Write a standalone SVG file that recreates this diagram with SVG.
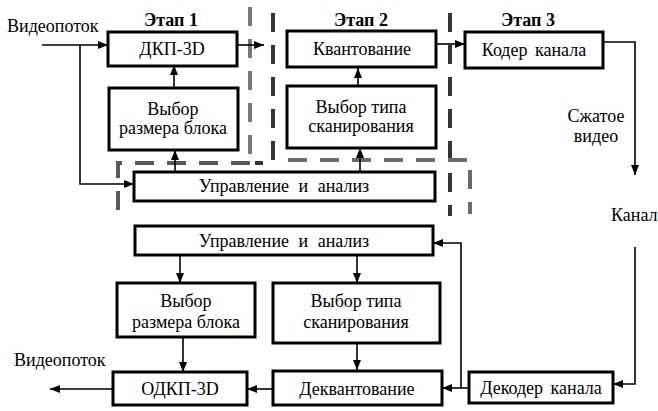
<svg xmlns="http://www.w3.org/2000/svg" width="658" height="411" viewBox="0 0 658 411">
  <style>
    .box { fill: #fff; stroke: #000; stroke-width: 3; }
    .t { font-family: "Liberation Serif", "Times New Roman", serif; font-size: 18px; fill: #000; text-anchor: middle; }
    .tl { font-family: "Liberation Serif", "Times New Roman", serif; font-size: 18px; fill: #000; }
    .wide { word-spacing: 5px; }
    .stage { font-family: "Liberation Serif", "Times New Roman", serif; font-size: 18px; font-weight: bold; fill: #000; text-anchor: middle; }
    .arr { fill: none; stroke: #000; stroke-width: 1.6; marker-end: url(#ah); }
    .dash { fill: none; stroke-width: 4; stroke-dasharray: 19 13; }
  </style>
  <defs>
    <marker id="ah" viewBox="0 0 10 8" refX="10" refY="4" markerWidth="10" markerHeight="8" markerUnits="userSpaceOnUse" orient="auto">
      <path d="M0,0 L10,4 L0,8 Z" fill="#000"/>
    </marker>
  </defs>

  <rect width="658" height="411" fill="#fff"/>

  <!-- stage boundaries -->
  <g id="stage-bounds">
    <path class="dash" stroke="#787878" d="M250,7 V158"/>
    <path class="dash" stroke="#353535" d="M273,13 V163 H255"/>
    <path class="dash" stroke="#353535" d="M450,13 V216"/>
    <path class="dash" stroke="#5a5a5a" stroke-dasharray="19 10" d="M118,210 V163 H250"/>
    <path class="dash" stroke="#6a6a6a" stroke-dasharray="19 10" d="M288,160 H470 V214"/>
  </g>

  <!-- stage titles and free labels -->
  <g id="labels">
    <text class="stage" x="171" y="26">Этап 1</text>
    <text class="stage" x="361" y="26">Этап 2</text>
    <text class="stage" x="528" y="26">Этап 3</text>
    <text class="tl" x="7" y="32">Видеопоток</text>
    <text class="t" x="596" y="122">Сжатое</text>
    <text class="t" x="596" y="142">видео</text>
    <text class="tl" x="611" y="221">Канал</text>
    <text class="tl" x="14" y="366">Видеопоток</text>
  </g>

  <!-- connectors -->
  <g id="connectors">
    <path class="arr" d="M42,45 H108"/>
    <path class="arr" d="M80,45 V184 H134"/>
    <path class="arr" d="M174,88 V65"/>
    <path class="arr" d="M175,172 V150"/>
    <path class="arr" d="M237,45 H264"/>
    <path class="arr" d="M358,86 V68"/>
    <path class="arr" d="M360,172 V148"/>
    <path class="arr" d="M437,44 H465"/>
    <path class="arr" d="M603,42 H635 V175"/>
    <path class="arr" d="M635,247 V384 H613"/>
    <path class="arr" d="M469,388 H442"/>
    <path class="arr" d="M461,388 V243 H433"/>
    <path class="arr" d="M180,255 V283"/>
    <path class="arr" d="M357,255 V283"/>
    <path class="arr" d="M183,337 V372"/>
    <path class="arr" d="M357,343 V370"/>
    <path class="arr" d="M273,389 H247"/>
    <path class="arr" d="M113,389 H50"/>
  </g>

  <!-- encoder -->
  <g id="dct3d">
    <rect class="box" x="108" y="32" width="129" height="34"/>
    <text class="t" x="172" y="55">ДКП-3D</text>
  </g>
  <g id="block-size-enc">
    <rect class="box" x="109" y="88" width="129" height="62"/>
    <text class="t" x="173" y="115">Выбор</text>
    <text class="t" x="173" y="134">размера блока</text>
  </g>
  <g id="control-enc">
    <rect class="box" x="134" y="172" width="301" height="29"/>
    <text class="t wide" x="284" y="192">Управление и анализ</text>
  </g>
  <g id="quant">
    <rect class="box" x="287" y="31" width="149" height="36"/>
    <text class="t" x="362" y="55">Квантование</text>
  </g>
  <g id="scan-enc">
    <rect class="box" x="287" y="86" width="149" height="62"/>
    <text class="t" x="361" y="113">Выбор типа</text>
    <text class="t" x="361" y="132">сканирования</text>
  </g>
  <g id="chan-enc">
    <rect class="box" x="465" y="32" width="138" height="36"/>
    <text class="t" x="534" y="56" style="word-spacing:3px">Кодер канала</text>
  </g>

  <!-- decoder -->
  <g id="control-dec">
    <rect class="box" x="135" y="226" width="298" height="29"/>
    <text class="t wide" x="284" y="247">Управление и анализ</text>
  </g>
  <g id="block-size-dec">
    <rect class="box" x="117" y="283" width="138" height="54"/>
    <text class="t" x="186" y="307">Выбор</text>
    <text class="t" x="186" y="328">размера блока</text>
  </g>
  <g id="scan-dec">
    <rect class="box" x="273" y="283" width="167" height="60"/>
    <text class="t" x="356" y="307">Выбор типа</text>
    <text class="t" x="356" y="328">сканирования</text>
  </g>
  <g id="idct3d">
    <rect class="box" x="113" y="372" width="134" height="33"/>
    <text class="t" x="180" y="395">ОДКП-3D</text>
  </g>
  <g id="dequant">
    <rect class="box" x="273" y="371" width="169" height="34"/>
    <text class="t" x="357" y="395">Деквантование</text>
  </g>
  <g id="chan-dec">
    <rect class="box" x="469" y="372" width="144" height="31"/>
    <text class="t" x="541" y="394" style="word-spacing:3px">Декодер канала</text>
  </g>
</svg>
